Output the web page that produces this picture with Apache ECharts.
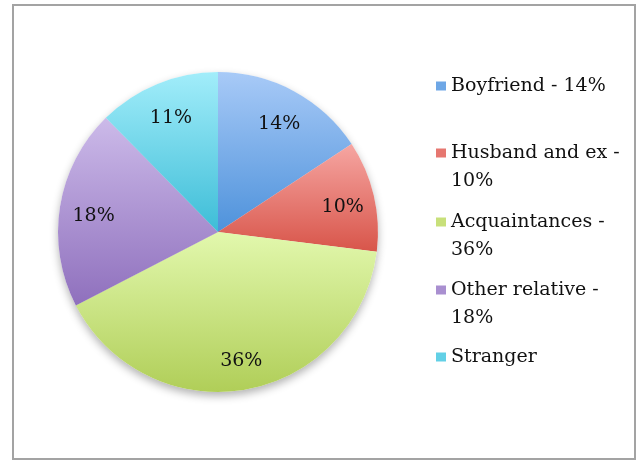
<!DOCTYPE html>
<html>
<head>
<meta charset="utf-8">
<script src="https://cdn.jsdelivr.net/npm/echarts@6/dist/echarts.min.js"></script>
<style>html,body{margin:0;padding:0;background:#fff}#c{width:637px;height:461px}</style>
</head>
<body>
<div id="c"></div>
<script>
var categories = ['Boyfriend', 'Husband and ex', 'Acquaintances', 'Other relative', 'Stranger'];
var values = [14, 10, 36, 18, 11];
var legendLines = [['Boyfriend - 14%'], ['Husband and ex -', '10%'], ['Acquaintances -', '36%'], ['Other relative -', '18%'], ['Stranger']];
var topColors = ['#a8caf7', '#f6a6a2', '#e2f8ad', '#ccbae9', '#a2edfa'];
var bottomColors = ['#4e92db', '#d8554a', '#b0ce58', '#8f70bd', '#3dbdd7'];
var midColors = ['#6ea7e6', '#e67770', '#c8e07a', '#a98fd0', '#62d0e6'];

var FONT = 'DejaVu Serif';
var cx = 218, cy = 232, R = 160;

function grad(i) {
  return new echarts.graphic.LinearGradient(0, 0, 0, 1, [
    {offset: 0, color: topColors[i]},
    {offset: 1, color: bottomColors[i]}
  ]);
}

var pieData = categories.map(function (c, i) {
  return {name: c, value: values[i], itemStyle: {color: grad(i)}};
});
var shadowData = categories.map(function (c, i) {
  return {name: c, value: values[i]};
});
var labelData = categories.map(function (c, i) {
  return {name: c, value: values[i]};
});

var LH = 28;
var legendCenters = [86, 153, 222, 290, 357];
var legends = categories.map(function (c, i) {
  var lines = legendLines[i];
  // multi-line entries get an empty leading line so the first text line sits beside the marker
  var text = lines.length > 1 ? '\n' + lines.join('\n') : lines[0];
  var nLines = lines.length > 1 ? lines.length + 1 : 1;
  return {
    data: [{name: c, itemStyle: {color: midColors[i]}}],
    left: 436,
    top: legendCenters[i] - nLines * LH / 2,
    orient: 'vertical',
    padding: 0,
    itemWidth: 10,
    itemHeight: 9,
    itemGap: 0,
    icon: 'rect',
    selectedMode: false,
    formatter: function () { return text; },
    textStyle: {fontFamily: FONT, fontSize: 19, color: '#111111', lineHeight: LH}
  };
});

var chart = echarts.init(document.getElementById('c'), null, {renderer: 'canvas'});
chart.setOption({
  backgroundColor: '#ffffff',
  animation: false,
  graphic: [{
    type: 'rect', z: -10,
    shape: {x: 13, y: 5, width: 622, height: 454},
    style: {fill: '#ffffff', stroke: '#a3a3a3', lineWidth: 2}
  }],
  legend: legends,
  series: [
    {
      type: 'pie', center: [cx, cy], radius: R, z: 1, silent: true,
      startAngle: 90, clockwise: true, label: {show: false}, labelLine: {show: false},
      data: shadowData,
      itemStyle: {color: '#ffffff', borderWidth: 0, shadowBlur: 8, shadowOffsetY: 4, shadowColor: 'rgba(0,0,0,0.3)'},
      legendHoverLink: false
    },
    {
      type: 'pie', center: [cx, cy], radius: R, z: 2,
      startAngle: 90, clockwise: true,
      label: {show: false}, labelLine: {show: false},
      itemStyle: {borderWidth: 0},
      data: pieData
    },
    {
      type: 'pie', center: [cx + 1, cy + 4], radius: [88, R], z: 3, silent: true,
      startAngle: 90, clockwise: true,
      itemStyle: {color: 'rgba(0,0,0,0)', borderWidth: 0},
      label: {show: true, position: 'inside', formatter: '{c}%', fontFamily: FONT, fontSize: 19, color: '#111111'},
      labelLine: {show: false},
      data: labelData
    }
  ]
});
</script>
</body>
</html>
